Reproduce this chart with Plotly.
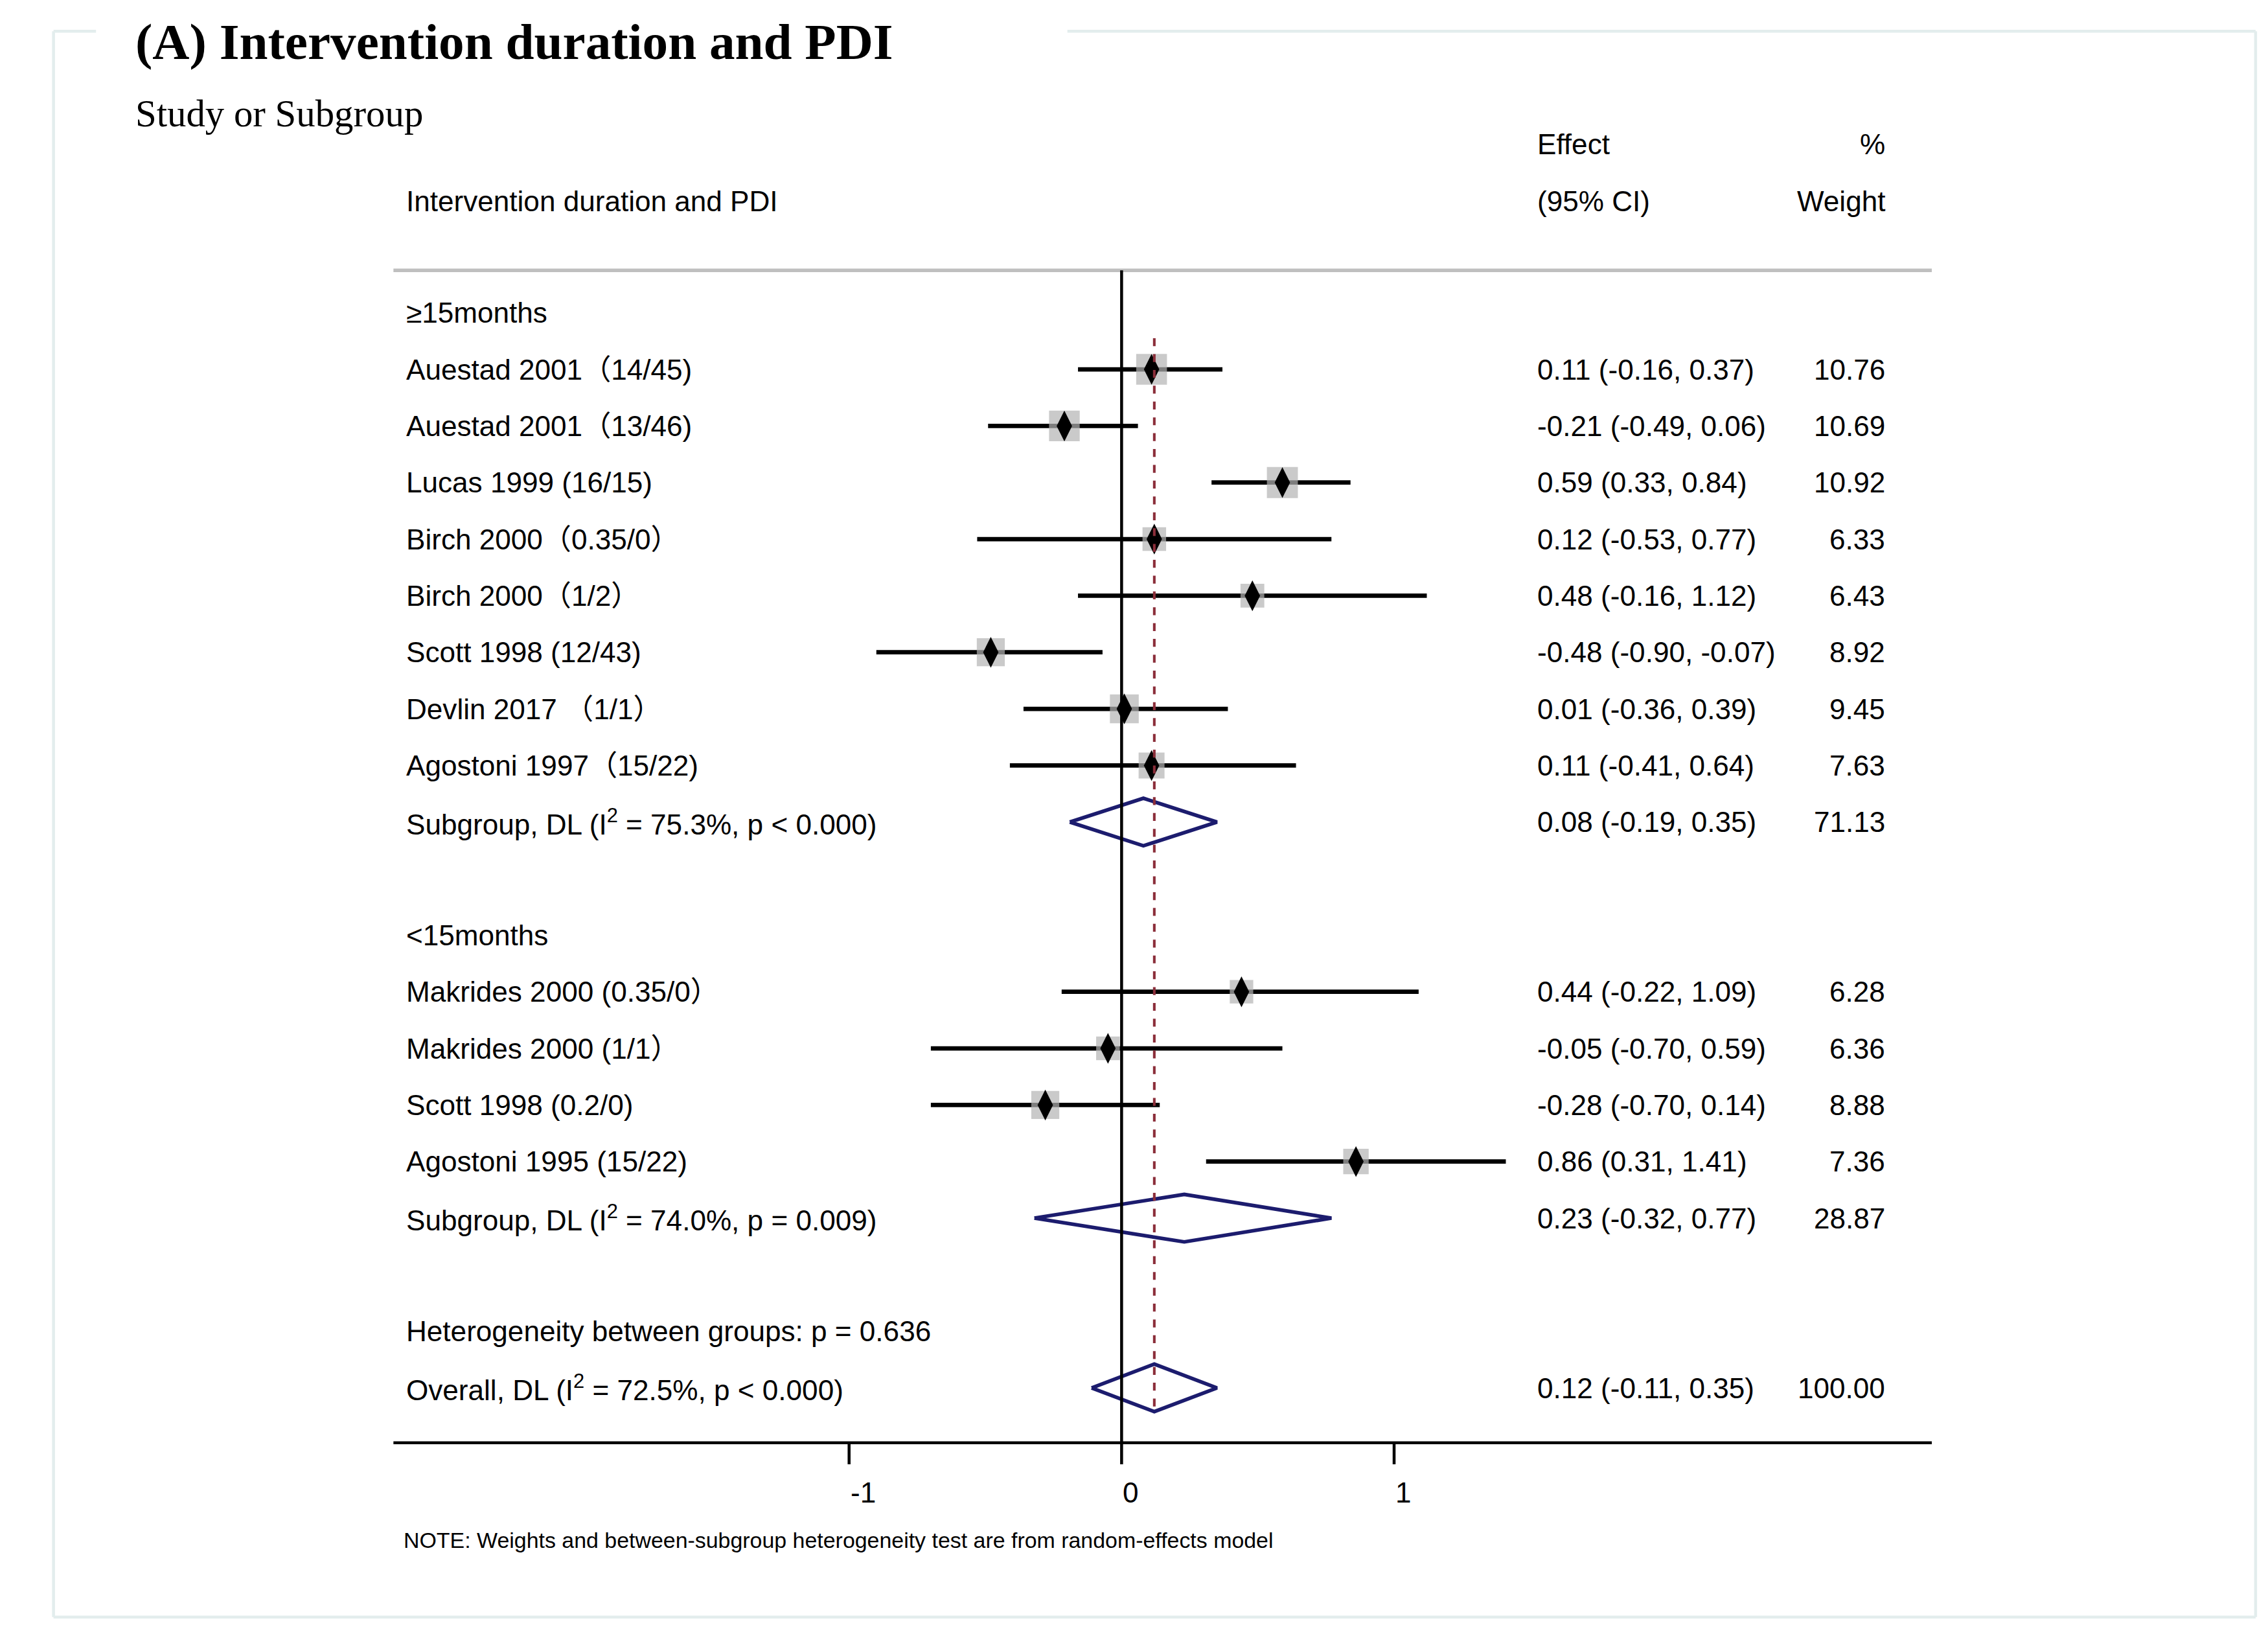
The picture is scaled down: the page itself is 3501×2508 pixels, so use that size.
import plotly.graph_objects as go
import numpy as np

# ---- data ----
labels = ["≥15months",
          "Auestad 2001（14/45)", "Auestad 2001（13/46)", "Lucas 1999 (16/15)",
          "Birch 2000（0.35/0）", "Birch 2000（1/2）", "Scott 1998 (12/43)",
          "Devlin 2017 （1/1）", "Agostoni 1997（15/22)",
          "Subgroup, DL (I<sup>2</sup> = 75.3%, p < 0.000)", "",
          "<15months",
          "Makrides 2000 (0.35/0）", "Makrides 2000 (1/1）", "Scott 1998 (0.2/0)",
          "Agostoni 1995 (15/22)",
          "Subgroup, DL (I<sup>2</sup> = 74.0%, p = 0.009)", "",
          "Heterogeneity between groups: p = 0.636",
          "Overall, DL (I<sup>2</sup> = 72.5%, p < 0.000)"]
kind = ["head", "s", "s", "s", "s", "s", "s", "s", "s", "sub", "",
        "head", "s", "s", "s", "s", "sub", "", "head", "sub"]
est = [None, 0.11, -0.21, 0.59, 0.12, 0.48, -0.48, 0.01, 0.11, 0.08, None,
       None, 0.44, -0.05, -0.28, 0.86, 0.23, None, None, 0.12]
lo = [None, -0.16, -0.49, 0.33, -0.53, -0.16, -0.90, -0.36, -0.41, -0.19, None,
      None, -0.22, -0.70, -0.70, 0.31, -0.32, None, None, -0.11]
hi = [None, 0.37, 0.06, 0.84, 0.77, 1.12, -0.07, 0.39, 0.64, 0.35, None,
      None, 1.09, 0.59, 0.14, 1.41, 0.77, None, None, 0.35]
weight = [None, 10.76, 10.69, 10.92, 6.33, 6.43, 8.92, 9.45, 7.63, 71.13, None,
          None, 6.28, 6.36, 8.88, 7.36, 28.87, None, None, 100.00]
xticks = [-1, 0, 1]
overall = 0.12

W, H = 3501, 2508
PX = 1548.0  # reference sketch width used for layout
PY = 1120.0
S = W / PX
FONT = "Liberation Sans, Arial, Noto Sans CJK SC"
SERIF = "Liberation Serif, Times New Roman, serif"

def px(x):
    return x / PX

def py(y):
    return 1 - y / PY

fig = go.Figure()
rows = list(range(len(labels)))

# study CI lines
for r in rows:
    if kind[r] == "s":
        fig.add_trace(go.Scatter(x=[lo[r], hi[r]], y=[r, r], mode="lines",
                                 line=dict(color="black", width=3 * S),
                                 showlegend=False, hoverinfo="skip"))
# weight boxes
sr = [r for r in rows if kind[r] == "s"]
fig.add_trace(go.Scatter(
    x=[est[r] for r in sr], y=sr, mode="markers", showlegend=False,
    marker=dict(symbol="square", color="#b3b3b3",
                size=[21 * S * np.sqrt(weight[r] / 10.76) for r in sr],
                line=dict(width=0))))
fig.add_trace(go.Scatter(
    x=[est[r] for r in sr], y=sr, mode="markers", showlegend=False,
    marker=dict(symbol="diamond-tall", color="black", size=15 * S, line=dict(width=0))))

# pooled diamonds
for r in rows:
    if kind[r] == "sub":
        fig.add_trace(go.Scatter(
            x=[lo[r], est[r], hi[r], est[r], lo[r]],
            y=[r, r - 0.42, r, r + 0.42, r], mode="lines", fill="toself",
            fillcolor="white", line=dict(color="#1c1c6e", width=2.5 * S),
            showlegend=False))

shapes = []
# frame
fc = "#e3eded"
for (x0, y0, x1, y1) in [(33, 18, 33, 1111), (33, 1111, 1536, 1111),
                         (1536, 18, 1536, 1111), (33, 18, 62, 18), (725, 18, 1536, 18)]:
    shapes.append(dict(type="line", xref="paper", yref="paper",
                       x0=px(x0), x1=px(x1), y0=py(y0), y1=py(y1),
                       line=dict(color=fc, width=2 * S)))
shapes.append(dict(type="line", xref="paper", yref="y", x0=px(265), x1=px(1315),
                   y0=-0.75, y1=-0.75, line=dict(color="#bfbfbf", width=2.5 * S)))
shapes.append(dict(type="line", xref="paper", yref="y", x0=px(265), x1=px(1315),
                   y0=19.97, y1=19.97, line=dict(color="black", width=2 * S)))
shapes.append(dict(type="line", xref="x", yref="y", x0=0, x1=0,
                   y0=-0.75, y1=19.97, line=dict(color="black", width=2 * S)))
shapes.append(dict(type="line", xref="x", yref="y", x0=overall, x1=overall,
                   y0=0.45, y1=19.45, line=dict(color="#8b2e3a", width=1.8 * S, dash="dash")))
for t in xticks:
    shapes.append(dict(type="line", xref="x", yref="y", x0=t, x1=t,
                       y0=19.97, y1=20.35, line=dict(color="black", width=2 * S)))

ann = []
def txt(x, y, s, size=19.5, anchor="left", yref="y", font=FONT, xref="paper"):
    ann.append(dict(x=x, y=y, xref=xref, yref=yref, text=s, showarrow=False,
                    xanchor=anchor, yanchor="middle",
                    font=dict(family=font, size=size * S, color="black")))

for r in rows:
    if labels[r]:
        txt(px(273), r, labels[r])
    if est[r] is not None:
        txt(px(1045), r, f"{est[r]:.2f} ({lo[r]:.2f}, {hi[r]:.2f})")
        txt(px(1284), r, f"{weight[r]:.2f}", anchor="right")
for t in xticks:
    txt(t, 20.85, str(t), xref="x")

txt(px(88), py(25), "<b>(A) Intervention duration and PDI</b>", size=35,
    yref="paper", font=SERIF)
txt(px(88), py(75), "Study or Subgroup", size=26, yref="paper", font=SERIF)
txt(px(1045), py(96), "Effect", yref="paper")
txt(px(1284), py(96), "%", yref="paper", anchor="right")
txt(px(273), py(135), "Intervention duration and PDI", yref="paper")
txt(px(1045), py(135), "(95% CI)", yref="paper")
txt(px(1284), py(135), "Weight", yref="paper", anchor="right")
txt(px(271), py(1058),
    "NOTE: Weights and between-subgroup heterogeneity test are from random-effects model",
    size=15, yref="paper")

fig.update_layout(
    width=W, height=H, margin=dict(l=0, r=0, t=0, b=0),
    plot_bgcolor="white", paper_bgcolor="white",
    xaxis=dict(range=[(0 - 762) / 186, (PX - 762) / 186], visible=False, domain=[0, 1]),
    yaxis=dict(range=[(PY - 212) / 39, -212 / 39], visible=False, domain=[0, 1]),
    shapes=shapes, annotations=ann)

fig.write_html("out.html")
